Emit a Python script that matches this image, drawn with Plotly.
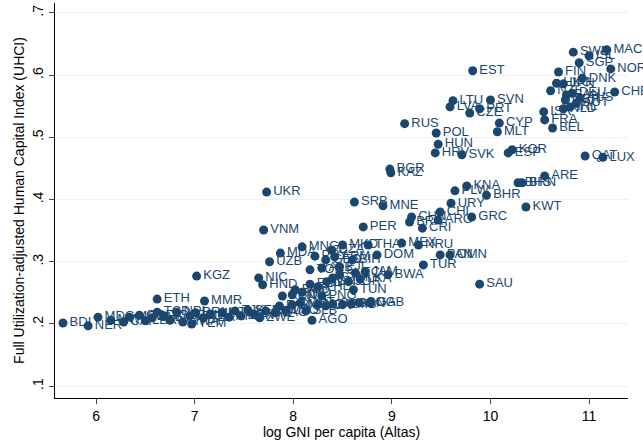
import plotly.graph_objects as go

codes = [
    "SWE","ISL","MAC","SGP","NOR","FIN","DNK","CHE","HKG","JPN","NZL","CAN","DEU","AUS","GBR","AUT","IRL","NLD","ISR","FRA","BEL",
    "QAT","LUX","ARE","BRN","BHS","KOR","ESP","KWT","SAU","BHR","KNA","PLW","URY","GRC","CHL",
    "EST","LTU","LVA","SVN","PRT","CZE","CYP","MLT","RUS","POL","HUN","HRV","SVK",
    "UKR","VNM","SRB","MNE","BGR","KAZ","PER","CHN","BRA","ARG","CRI","TUR","PAN","OMN","MEX","NRU",
    "MNG","MDA","UZB","NIC","HND","KGZ","ETH","MMR","AGO","MKD","THA","DOM","BIH","PRY","GEO","ARM","ALB","FJI","TON","DZA","ECU","JAM","BWA",
    "BOL","IND","EGY","PHL","IDN","GTM","SLV","JOR","LKA","TUN","PNG","KEN","BGD",
    "BDI","NER","MDG","MWI","CAF","MOZ","COD","LBR","SLE","TCD","TGO","UGA","NPL","RWA","GMB","BFA","TZA","MLI","YEM","HTI","AFG","TJK","BEN","SEN","COM","ZWE","KHM","LAO","PAK","LSO","CMR","MRT","SLB","NGA","CIV","GHA","ZMB","SDN","COG","GAB",
]
log_gni = [
    10.84,11.00,11.18,10.90,11.22,10.69,10.93,11.26,10.67,10.74,10.61,10.77,10.83,10.91,10.76,10.87,10.81,10.74,10.54,10.55,10.63,
    10.96,11.14,10.55,10.32,10.28,10.22,10.18,10.36,9.89,9.96,9.76,9.64,9.60,9.81,9.49,
    9.82,9.62,9.59,10.00,9.89,9.79,10.09,10.07,9.13,9.45,9.47,9.44,9.71,
    7.73,7.70,8.62,8.91,8.98,8.99,8.71,9.20,9.18,9.47,9.31,9.32,9.49,9.59,9.10,9.27,
    8.09,7.87,7.76,7.65,7.69,7.02,6.62,7.10,8.19,8.50,8.76,8.85,8.60,8.22,8.33,8.42,8.29,8.47,8.17,8.39,8.63,8.73,8.96,
    7.99,8.09,8.17,8.25,8.34,8.40,8.47,8.56,8.68,8.61,8.29,7.89,8.02,
    5.665,5.92,6.02,6.15,6.28,6.34,6.44,6.50,6.57,6.62,6.69,6.75,6.82,6.88,6.95,7.01,7.09,7.16,6.97,7.28,7.35,7.41,7.47,7.54,7.60,7.66,7.72,7.82,7.86,7.93,7.99,8.07,8.13,8.25,8.33,8.40,8.50,8.59,8.67,8.78,
]
uhci = [
    .637,.631,.641,.620,.610,.605,.595,.573,.587,.586,.575,.568,.571,.563,.560,.555,.549,.546,.541,.528,.515,
    .470,.468,.438,.427,.427,.480,.475,.388,.264,.407,.422,.414,.394,.372,.380,
    .607,.559,.549,.560,.546,.539,.523,.509,.522,.507,.489,.475,.472,
    .412,.351,.396,.390,.449,.443,.356,.372,.364,.367,.354,.295,.311,.311,.330,.327,
    .324,.314,.300,.274,.263,.277,.240,.237,.206,.327,.327,.311,.303,.309,.303,.308,.290,.292,.287,.319,.282,.284,.279,
    .247,.251,.264,.260,.268,.274,.279,.268,.272,.255,.245,.245,.255,
    .2016,.197,.211,.206,.203,.211,.214,.205,.210,.219,.213,.206,.219,.203,.213,.218,.210,.216,.200,.218,.211,.221,.213,.222,.216,.210,.221,.218,.229,.222,.231,.234,.221,.231,.229,.232,.231,.232,.234,.234,
]

x_ticks = [6, 7, 8, 9, 10, 11]
y_ticks = [.1, .2, .3, .4, .5, .6, .7]
y_ticktext = [".1", ".2", ".3", ".4", ".5", ".6", ".7"]

navy = "#1a476f"

fig = go.Figure(go.Scatter(
    x=log_gni, y=uhci, text=codes, mode="markers+text",
    textposition="middle right",
    marker=dict(color=navy, size=9),
    textfont=dict(color=navy, size=13, family="Liberation Sans, Arial, sans-serif"),
    cliponaxis=False, showlegend=False,
))

fig.update_layout(
    width=643, height=448,
    margin=dict(l=55, r=15, t=3, b=50),
    paper_bgcolor="white", plot_bgcolor="white",
    font=dict(family="Liberation Sans, Arial, sans-serif", color="black", size=14),
    xaxis=dict(range=[5.584, 11.395], tickvals=x_ticks, ticks="outside", ticklen=5,
               showline=True, linecolor="black", linewidth=1, showgrid=False, zeroline=False,
               title=dict(text="log GNI per capita (Altas)", standoff=4, font=dict(size=14))),
    yaxis=dict(range=[0.081, 0.716], tickvals=y_ticks, ticktext=y_ticktext, ticks="outside", ticklen=5,
               tickangle=-90,
               showline=True, linecolor="black", linewidth=1, showgrid=True, gridcolor="#eaf2f3",
               zeroline=False,
               title=dict(text="Full Utilization-adjusted Human Capital Index (UHCI)", standoff=2, font=dict(size=14))),
)

fig.write_html("out.html")
